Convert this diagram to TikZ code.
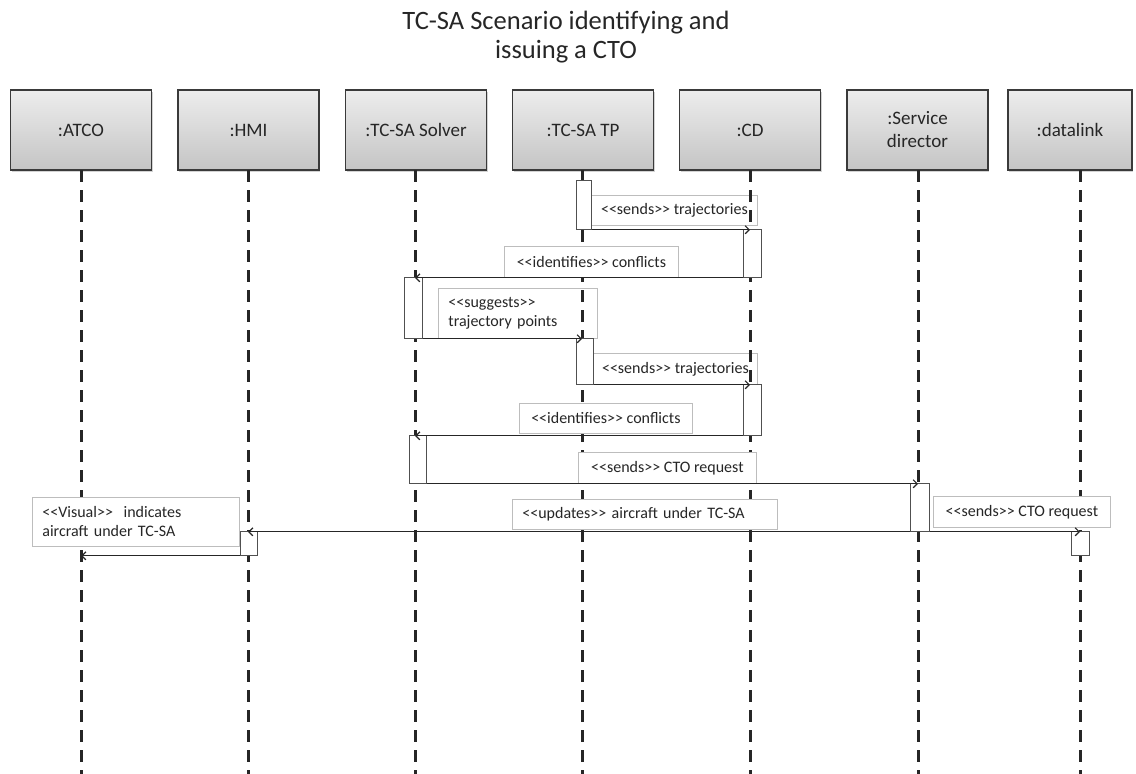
\documentclass[tikz,border=0pt]{standalone}
\usepackage{fontspec}
\setmainfont{Carlito}
\usetikzlibrary{arrows.meta,shadows}

\definecolor{hdrtop}{HTML}{EDEDED}
\definecolor{hdrbot}{HTML}{C4C4C4}
\definecolor{hdrline}{HTML}{3A3A3A}
\definecolor{lblline}{HTML}{BDBDBD}
\definecolor{actline}{HTML}{505050}
\definecolor{ink}{HTML}{262626}

% stereotype brackets kept as two separate characters
\newcommand\stopen{<\kern0pt<}
\newcommand\stclose{>\kern0pt>}

\tikzset{
  hdr/.style={draw=hdrline, line width=1.2pt, top color=hdrtop, bottom color=hdrbot,
    minimum width=141pt, minimum height=80pt, inner sep=2pt, align=center,
    font=\fontsize{19}{23}\selectfont, text=ink,
    drop shadow={shadow xshift=1.2pt, shadow yshift=-1.5pt, opacity=0.35}},
  life/.style={line width=3pt, dash pattern=on 12pt off 8pt, ink},
  act/.style={draw=actline, line width=0.8pt, fill=white, inner sep=0pt, anchor=north west},
  lbl/.style={draw=lblline, line width=0.8pt, fill=white, inner sep=0pt, anchor=north west,
    font=\fontsize{16}{19}\selectfont, text=ink},
  lbltwo/.style={lbl, align=left, inner xsep=10pt},
  msg/.style={line width=1.2pt, ink, -{Straight Barb[length=4pt,width=8pt]}},
}

\begin{document}
\begin{tikzpicture}[x=1pt, y=-1pt]
\useasboundingbox (0,0) rectangle (1136,774);

% title
\node[font=\fontsize{26.5}{29}\selectfont, align=center, text=ink] (title) at (566,37)
  {TC-SA Scenario identifying and\\issuing a CTO};

% participant heads
\node[hdr] (atco) at (81,130)   {:ATCO};
\node[hdr] (hmi)  at (248.5,130) {:HMI};
\node[hdr] (solv) at (416,130)  {:TC-SA Solver};
\node[hdr] (tp)   at (583,130)  {:TC-SA TP};
\node[hdr] (cd)   at (750,130)  {:CD};
\node[hdr] (sd)   at (917.5,130) {:Service\\director};
\node[hdr, minimum width=124pt] (dl) at (1070,130) {:datalink};

% lifeline tops and ends
\coordinate (atcoL) at (81,170);   \coordinate (atcoE) at (81,774);
\coordinate (hmiL)  at (248,170);  \coordinate (hmiE)  at (248,774);
\coordinate (solvL) at (415,170);  \coordinate (solvE) at (415,774);
\coordinate (tpL)   at (582,170);  \coordinate (tpE)   at (582,774);
\coordinate (cdL)   at (750,170);  \coordinate (cdE)   at (750,774);
\coordinate (sdL)   at (918,170);  \coordinate (sdE)   at (918,774);
\coordinate (dlL)   at (1080,170); \coordinate (dlE)   at (1080,774);

% message labels lying under the lifelines
\node[lbl, minimum width=166pt, minimum height=30pt] (m1) at (591,195) {\stopen sends\stclose{} trajectories};
\node[lbltwo, minimum width=159pt, minimum height=50pt, text width=139pt] (m3) at (438,288)
  {\stopen suggests\stclose\\trajectory points};
\node[lbl, minimum width=164pt, minimum height=31pt] (m4) at (593,353) {\stopen sends\stclose{} trajectories};

% lifelines
\foreach \p in {atco,hmi,solv,tp,cd,sd,dl}
  \draw[life] (\p L) -- (\p E);

% activation bars
\node[act, minimum width=15pt, minimum height=49pt] (tpA1)   at (576,180) {};
\node[act, minimum width=18pt, minimum height=48pt] (cdA1)   at (743,229) {};
\node[act, minimum width=18pt, minimum height=61pt] (solvA1) at (404,277) {};
\node[act, minimum width=17pt, minimum height=46pt] (tpA2)   at (576,338) {};
\node[act, minimum width=18pt, minimum height=51pt] (cdA2)   at (743,384) {};
\node[act, minimum width=17pt, minimum height=48pt] (solvA2) at (409,435) {};
\node[act, minimum width=19pt, minimum height=48pt] (sdA)    at (910,483) {};
\node[act, minimum width=18pt, minimum height=24pt] (dlA)    at (1071,531) {};
\node[act, minimum width=17pt, minimum height=24pt] (hmiA)   at (240,531) {};

% message labels over the lifelines
\node[lbl, minimum width=174pt, minimum height=31pt] (m2) at (504,246) {\stopen identifies\stclose{} conflicts};
\node[lbl, minimum width=173pt, minimum height=30pt] (m5) at (519,403) {\stopen identifies\stclose{} conflicts};
\node[lbl, minimum width=178pt, minimum height=31pt] (m6) at (578,452) {\stopen sends\stclose{} CTO request};
\node[lbltwo, minimum width=265pt, minimum height=30pt, text width=245pt] (m7) at (512,499)
  {\stopen updates\stclose{} aircraft under TC-SA};
\node[lbl, minimum width=177pt, minimum height=31pt] (m8) at (933,496) {\stopen sends\stclose{} CTO request};
\node[lbltwo, minimum width=207pt, minimum height=49pt, text width=187pt] (m9) at (32,497)
  {\stopen Visual\stclose\ \ indicates\\aircraft under TC-SA};

% messages
\draw[msg] (tpA1.south east)   -- (tpA1.south east -| cdL);
\draw[msg] (cdA1.south west)   -- (cdA1.south west -| solvL);
\draw[msg] (solvA1.south east) -- (solvA1.south east -| tpL);
\draw[msg] (tpA2.south east)   -- (tpA2.south east -| cdL);
\draw[msg] (cdA2.south west)   -- (cdA2.south west -| solvL);
\draw[msg] (solvA2.south east) -- (solvA2.south east -| sdL);
\draw[msg] (sdA.south west)    -- (sdA.south west -| hmiL);
\draw[msg] (sdA.south east)    -- (sdA.south east -| dlL);
\draw[msg] (hmiA.south west)   -- (hmiA.south west -| atcoL);
\end{tikzpicture}
\end{document}
